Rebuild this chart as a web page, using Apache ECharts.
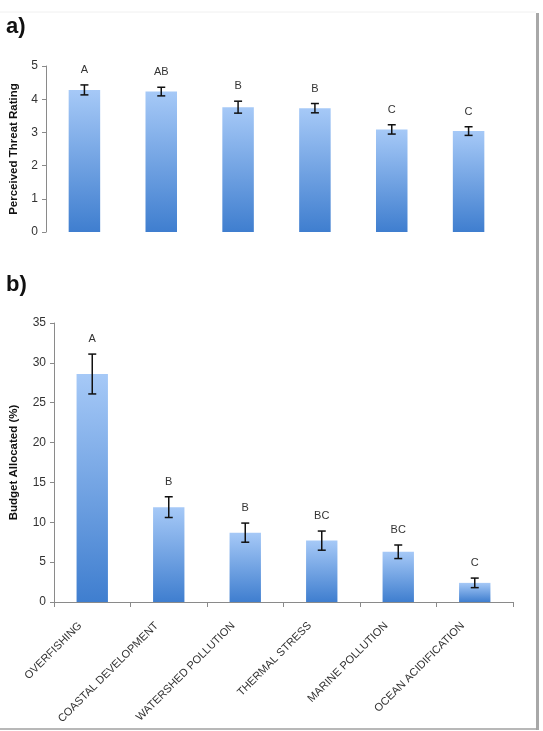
<!DOCTYPE html>
<html>
<head>
<meta charset="utf-8">
<script src="https://cdn.jsdelivr.net/npm/echarts@6/dist/echarts.min.js"></script>
<style>
  html, body { margin: 0; padding: 0; background: #fff; }
  #chart { width: 543px; height: 731px; }
</style>
</head>
<body>
<div id="chart"></div>
<script>
// Threat categories (shared x axis)
const categories = ['OVERFISHING', 'COASTAL DEVELOPMENT', 'WATERSHED POLLUTION', 'THERMAL STRESS', 'MARINE POLLUTION', 'OCEAN ACIDIFICATION'];

// Panel a) perceived threat rating
const threat = [4.28, 4.23, 3.76, 3.73, 3.09, 3.04];
const threatErr = [0.15, 0.13, 0.18, 0.14, 0.14, 0.13];
const threatLetters = ['A', 'AB', 'B', 'B', 'C', 'C'];

// Panel b) budget allocated (%)
const budget = [28.6, 11.9, 8.7, 7.7, 6.3, 2.4];
const budgetErr = [2.5, 1.3, 1.2, 1.2, 0.85, 0.6];
const budgetLetters = ['A', 'B', 'B', 'BC', 'BC', 'C'];

const chart = echarts.init(document.getElementById('chart'));
const font = '"Liberation Sans", Arial, sans-serif';

const barColor = new echarts.graphic.LinearGradient(0, 0, 0, 1, [
    { offset: 0, color: '#a6c9f7' },
    { offset: 1, color: '#3f7ecf' }
]);

function errData(vals, errs, letters) {
    return vals.map((v, i) => [i, v - errs[i], v + errs[i], letters[i]]);
}

function renderErr(params, api) {
    const x = api.value(0);
    const lo = api.coord([x, api.value(1)]);
    const hi = api.coord([x, api.value(2)]);
    const cap = 4;
    const style = { stroke: '#111', lineWidth: 1.5 };
    return {
        type: 'group',
        children: [
            { type: 'line', shape: { x1: hi[0], y1: hi[1], x2: lo[0], y2: lo[1] }, style },
            { type: 'line', shape: { x1: hi[0] - cap, y1: hi[1], x2: hi[0] + cap, y2: hi[1] }, style },
            { type: 'line', shape: { x1: lo[0] - cap, y1: lo[1], x2: lo[0] + cap, y2: lo[1] }, style },
            {
                type: 'text',
                x: hi[0], y: hi[1] - 15,
                style: {
                    text: api.value(3), fill: '#333', font: '11px ' + font,
                    align: 'center', verticalAlign: 'middle'
                }
            }
        ]
    };
}

const axisLine = { show: true, lineStyle: { color: '#8a8a8a', width: 1 } };
const yLabel = { color: '#333', fontSize: 12, fontFamily: font, margin: 8 };
const nameStyle = { fontWeight: 'bold', fontSize: 11.5, color: '#111', fontFamily: font };

const option = {
    animation: false,
    backgroundColor: '#fff',
    graphic: [
        { type: 'text', left: 6, top: 16, style: { text: 'a)', font: 'bold 22px ' + font, fill: '#111' } },
        { type: 'text', left: 6, top: 274, style: { text: 'b)', font: 'bold 22px ' + font, fill: '#111' } },
        { type: 'line', shape: { x1: 0, y1: 12, x2: 536, y2: 12 }, style: { stroke: '#f0f0f0', lineWidth: 1 } },
        { type: 'rect', shape: { x: 536, y: 13, width: 3, height: 717 }, style: { fill: '#a8a8a8' } },
        { type: 'line', shape: { x1: 0, y1: 729, x2: 537, y2: 729 }, style: { stroke: '#a0a0a0', lineWidth: 1.5 } }
    ],
    grid: [
        { left: 44, top: 66, width: 463, height: 166 },
        { left: 44, top: 323, width: 469, height: 279 }
    ],
    xAxis: [
        {
            type: 'category', gridIndex: 0, data: categories,
            axisLine: { show: false }, axisTick: { show: false }, axisLabel: { show: false }
        },
        {
            type: 'category', gridIndex: 1, data: categories,
            axisLine: axisLine,
            axisTick: { show: true, length: 5, lineStyle: { color: '#8a8a8a' } },
            axisLabel: {
                rotate: 45, color: '#333', fontSize: 11, fontFamily: font,
                margin: 10, interval: 0, padding: [0, 17, 0, 0]
            }
        }
    ],
    yAxis: [
        {
            type: 'value', gridIndex: 0, min: 0, max: 5, interval: 1,
            name: 'Perceived Threat Rating', nameLocation: 'middle', nameGap: 26,
            nameTextStyle: nameStyle,
            axisLine: axisLine, axisTick: { show: true, length: 4, lineStyle: { color: '#8a8a8a' } },
            axisLabel: yLabel, splitLine: { show: false }
        },
        {
            type: 'value', gridIndex: 1, min: 0, max: 35, interval: 5,
            name: 'Budget Allocated (%)', nameLocation: 'middle', nameGap: 34,
            nameTextStyle: nameStyle,
            axisLine: axisLine, axisTick: { show: true, length: 4, lineStyle: { color: '#8a8a8a' } },
            axisLabel: yLabel, splitLine: { show: false }
        }
    ],
    series: [
        {
            type: 'bar', xAxisIndex: 0, yAxisIndex: 0, data: threat,
            barWidth: '41%', itemStyle: { color: barColor }
        },
        {
            type: 'custom', xAxisIndex: 0, yAxisIndex: 0,
            data: errData(threat, threatErr, threatLetters),
            renderItem: renderErr, z: 5
        },
        {
            type: 'bar', xAxisIndex: 1, yAxisIndex: 1, data: budget,
            barWidth: '41%', itemStyle: { color: barColor }
        },
        {
            type: 'custom', xAxisIndex: 1, yAxisIndex: 1,
            data: errData(budget, budgetErr, budgetLetters),
            renderItem: renderErr, z: 5
        }
    ]
};

chart.setOption(option);
</script>
</body>
</html>
